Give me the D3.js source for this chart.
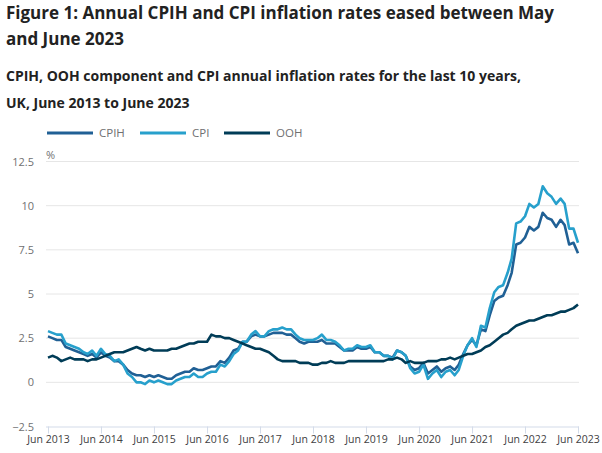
<!DOCTYPE html>
<html><head><meta charset="utf-8">
<script src="https://cdn.jsdelivr.net/npm/d3@7"></script>
<style>
body{margin:0;background:#fff;}
svg{display:block;font-family:"Open Sans",sans-serif;}
</style></head><body>
<svg id="chart" width="602" height="453"></svg>
<script>
const titleLines = ["Figure 1: Annual CPIH and CPI inflation rates eased between May", "and June 2023"];
const subtitleLines = ["CPIH, OOH component and CPI annual inflation rates for the last 10 years,", "UK, June 2013 to June 2023"];
const seriesNames = ["CPIH", "CPI", "OOH"];
const seriesColors = ["#206095", "#27a0cc", "#003c57"];
const startMonth = "2013-06";
// monthly values Jun 2013 .. Jun 2023
const cpih = [2.6,2.5,2.4,2.4,2.0,1.9,1.8,
 1.7,1.6,1.5,1.6,1.4,1.7,1.5,1.4,1.2,1.2,1.0,0.7,
 0.5,0.4,0.4,0.3,0.4,0.3,0.4,0.3,0.2,0.2,0.4,0.5,
 0.6,0.6,0.8,0.7,0.7,0.8,0.9,0.9,1.2,1.1,1.4,1.8,
 1.9,2.3,2.3,2.6,2.7,2.6,2.6,2.7,2.8,2.8,2.8,2.7,
 2.7,2.5,2.3,2.2,2.3,2.3,2.3,2.4,2.2,2.2,2.2,2.0,
 1.8,1.8,1.8,2.0,1.9,1.9,2.0,1.7,1.7,1.5,1.5,1.4,
 1.8,1.7,1.5,0.9,0.7,0.8,1.1,0.5,0.7,0.9,0.6,0.8,
 0.9,0.7,1.0,1.6,2.1,2.4,2.1,3.0,2.9,3.8,4.6,4.8,
 4.9,5.5,6.2,7.8,7.9,8.2,8.8,8.6,8.8,9.6,9.3,9.2,
 8.8,9.2,8.9,7.8,7.9,7.3];
const cpi = [2.9,2.8,2.7,2.7,2.2,2.1,2.0,
 1.9,1.7,1.6,1.8,1.5,1.9,1.6,1.5,1.2,1.3,1.0,0.5,
 0.3,0.0,0.0,-0.1,0.1,0.0,0.1,0.0,-0.1,-0.1,0.1,0.2,
 0.3,0.3,0.5,0.3,0.3,0.5,0.6,0.6,1.0,0.9,1.2,1.6,
 1.8,2.3,2.3,2.7,2.9,2.6,2.6,2.9,3.0,3.0,3.1,3.0,
 3.0,2.7,2.5,2.4,2.4,2.4,2.5,2.7,2.4,2.4,2.3,2.1,
 1.8,1.9,1.9,2.1,2.0,2.0,2.1,1.7,1.7,1.5,1.5,1.3,
 1.8,1.7,1.5,0.8,0.5,0.6,1.0,0.2,0.5,0.7,0.3,0.6,
 0.7,0.4,0.7,1.5,2.1,2.5,2.0,3.2,3.1,4.2,5.1,5.4,
 5.5,6.2,7.0,9.0,9.1,9.4,10.1,9.9,10.1,11.1,10.7,10.5,
 10.1,10.4,10.1,8.7,8.7,7.9];
const ooh = [1.4,1.5,1.4,1.2,1.3,1.4,1.3,
 1.3,1.3,1.2,1.3,1.3,1.4,1.5,1.6,1.7,1.7,1.7,1.8,
 1.9,2.0,1.9,1.8,1.9,1.8,1.8,1.8,1.8,1.9,1.9,2.0,
 2.1,2.2,2.2,2.3,2.3,2.3,2.7,2.6,2.6,2.5,2.5,2.4,
 2.3,2.2,2.1,2.0,1.9,1.9,1.8,1.7,1.5,1.3,1.2,1.2,
 1.2,1.2,1.1,1.1,1.1,1.0,1.0,1.1,1.1,1.2,1.1,1.1,
 1.1,1.2,1.2,1.2,1.2,1.2,1.2,1.2,1.2,1.2,1.3,1.3,
 1.4,1.3,1.1,1.2,1.1,1.1,1.1,1.2,1.2,1.2,1.3,1.3,
 1.4,1.3,1.4,1.5,1.6,1.6,1.7,1.8,2.0,2.1,2.3,2.5,
 2.7,2.8,3.0,3.2,3.3,3.4,3.5,3.5,3.6,3.7,3.8,3.8,
 3.9,4.0,4.0,4.1,4.2,4.4];
const yTicks = [-2.5, 0, 2.5, 5, 7.5, 10, 12.5];
const xTickYears = [2013,2014,2015,2016,2017,2018,2019,2020,2021,2022,2023];

const svg = d3.select("#chart");
const parse = d3.timeParse("%Y-%m");
const d0 = parse(startMonth);
const dates = cpih.map((_, i) => d3.timeMonth.offset(d0, i));
const data = [cpih, cpi, ooh];

const x = d3.scaleTime().domain([dates[0], dates[dates.length - 1]]).range([48, 578]);
const y = d3.scaleLinear().domain([-2.5, 12.5]).range([426.5, 161.5]);

// titles
const tg = svg.append("g").attr("fill", "#222");
titleLines.forEach((t, i) => tg.append("text").attr("x", 6).attr("y", 19 + i * 26)
  .attr("font-size", 17).attr("font-weight", 700).text(t));
subtitleLines.forEach((t, i) => tg.append("text").attr("x", 6).attr("y", 81 + i * 27)
  .attr("font-size", 14).attr("font-weight", 700).text(t));

// legend
const lg = svg.append("g");
const legendX = [47, 140, 224];
seriesNames.forEach((n, i) => {
  lg.append("line").attr("x1", legendX[i]).attr("x2", legendX[i] + 46)
    .attr("y1", 133).attr("y2", 133).attr("stroke", seriesColors[i]).attr("stroke-width", 3);
  lg.append("text").attr("x", legendX[i] + 52).attr("y", 137).attr("font-size", 11.5)
    .attr("fill", "#707071").text(n);
});

// gridlines
svg.append("g").selectAll("line").data(yTicks.filter(v => v > -2.5)).join("line")
  .attr("x1", 46).attr("x2", 579).attr("y1", d => y(d)).attr("y2", d => y(d))
  .attr("stroke", "#e6e6e6").attr("stroke-width", 1);

// y axis labels
const ya = svg.append("g").attr("transform", "translate(34,0)")
  .call(d3.axisLeft(y).tickValues(yTicks).tickSize(0).tickPadding(0).tickFormat(d3.format("")));
ya.select(".domain").remove();
ya.selectAll("text").attr("font-size", 11).attr("fill", "#707071").attr("font-family", "Open Sans");
svg.append("text").attr("x", 46).attr("y", 159).attr("font-size", 11).attr("fill", "#707071").text("%");

// x axis
const xa = svg.append("g").attr("transform", `translate(0,${y(-2.5)})`)
  .call(d3.axisBottom(x).tickValues(xTickYears.map(yr => new Date(yr, 5, 1)))
    .tickSize(7).tickPadding(2).tickFormat(d3.timeFormat("Jun %Y")).tickSizeOuter(0));
xa.select(".domain").attr("stroke", "#d3dbe9").attr("d", "M46,0.5H579");
xa.selectAll(".tick line").attr("stroke", "#d3dbe9");
xa.selectAll("text").attr("font-size", 10.5).attr("fill", "#414042").attr("font-family", "Open Sans");

// lines
const line = d3.line().x((d, i) => x(dates[i])).y(d => y(d));
svg.append("g").selectAll("path").data(data).join("path")
  .attr("d", d => line(d)).attr("fill", "none")
  .attr("stroke", (d, i) => seriesColors[i]).attr("stroke-width", 2.6)
  .attr("stroke-linejoin", "round");
</script>
</body></html>
